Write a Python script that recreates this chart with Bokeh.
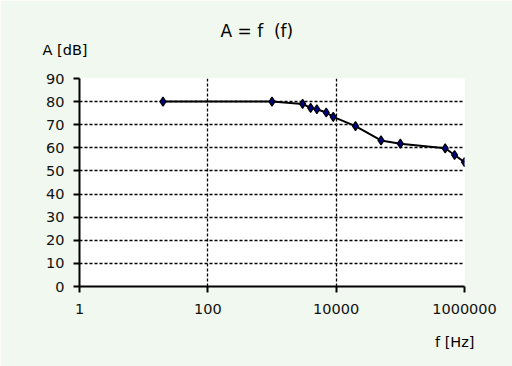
from bokeh.plotting import figure
from bokeh.models import Range1d, FixedTicker, PrintfTickFormatter, Title, ColumnDataSource
from bokeh.embed import file_html
from bokeh.resources import INLINE

# data
freq = [20, 1000, 3000, 4000, 5000, 7000, 9000, 20000, 50000, 100000, 500000, 700000, 1000000]
amp = [80, 80, 79, 77.3, 76.7, 75.3, 73.4, 69.4, 63.2, 61.8, 59.8, 56.9, 53.8]
x_ticks = [1, 100, 10000, 1000000]
y_ticks = [0, 10, 20, 30, 40, 50, 60, 70, 80, 90]
title_text = "A = f\u00a0 (f)"
y_label = "A [dB]"
x_label = "f [Hz]"

BG = "#f1f8ef"
FONT = "DejaVu Sans"
W, H = 512, 366

p = figure(width=W, height=H, x_axis_type="log",
           x_range=Range1d(1, 1000000), y_range=Range1d(0, 90),
           output_backend="svg", toolbar_location=None,
           min_border_left=79, min_border_right=48,
           min_border_top=78, min_border_bottom=80)
p.background_fill_color = "white"
p.border_fill_color = BG
p.outline_line_color = None

# axes
for ax in (p.xaxis[0], p.yaxis[0]):
    ax.axis_line_color = "black"
    ax.axis_line_width = 2
    ax.major_tick_line_color = "black"
    ax.major_tick_line_width = 2
    ax.major_tick_out = 6
    ax.major_tick_in = 0
    ax.minor_tick_line_color = None
    ax.major_label_text_font = FONT
    ax.major_label_text_font_size = "14.5px"
    ax.major_label_text_color = "#111111"

p.xaxis.ticker = FixedTicker(ticks=x_ticks)
p.xaxis.formatter = PrintfTickFormatter(format="%d")
p.xaxis.major_label_standoff = 11
p.yaxis.ticker = FixedTicker(ticks=y_ticks)
p.yaxis.major_label_standoff = 9

# grids
p.xgrid.ticker = FixedTicker(ticks=x_ticks[1:3])
p.ygrid.ticker = FixedTicker(ticks=y_ticks[1:-1])
for g in (p.xgrid[0], p.ygrid[0]):
    g.grid_line_color = "black"
    g.grid_line_width = 1.3
    g.grid_line_dash = "3 2"

src = ColumnDataSource(data=dict(f=freq, a=amp))
p.line("f", "a", source=src, line_color="black", line_width=2)
p.scatter("f", "a", source=src, marker="diamond", size=9,
          fill_color="#000080", line_color="black", line_width=1.2)

# main title (outermost) as the figure's own title
p.title.text = title_text
p.title.align = "left"
p.title.offset = 141
p.title.standoff = -44
p.title.text_font = FONT
p.title.text_font_size = "17px"
p.title.text_font_style = "normal"
p.title.text_color = "black"

# y-axis caption, nearer to the frame
p.add_layout(Title(text=y_label, align="left", offset=-37,
                   standoff=42, text_font=FONT, text_font_size="14.5px",
                   text_font_style="normal", text_color="black"), "above")

# x-axis caption below the axis
p.add_layout(Title(text=x_label, align="right", offset=-10,
                   standoff=31, text_font=FONT, text_font_size="14.5px",
                   text_font_style="normal", text_color="black"), "below")

open("out.html", "w").write(file_html(p, INLINE))
